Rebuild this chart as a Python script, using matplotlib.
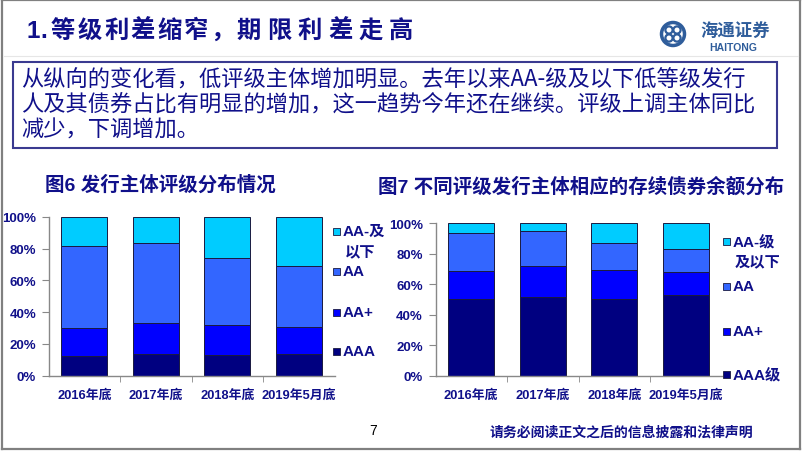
import matplotlib
matplotlib.use('Agg')
import matplotlib.pyplot as plt
from matplotlib.patches import Rectangle, Circle
from matplotlib.lines import Line2D

plt.rcParams['font.family'] = ['Liberation Sans', 'Noto Sans CJK SC', 'DejaVu Sans']

# ---- data (percent of total) ----
categories = ['2016年底', '2017年底', '2018年底', '2019年5月底']
series_colors = ['#000080', '#0000FF', '#3366FF', '#00CCFF']

issuer_aaa = [12.2, 13.8, 13.2, 13.6]
issuer_aap = [17.6, 19.3, 18.7, 17.0]
issuer_aa = [51.8, 50.3, 42.3, 38.2]
issuer_low = [18.4, 16.6, 25.8, 31.2]
issuer_labels = ['AAA', 'AA+', 'AA', 'AA-及\n以下']

bond_aaa = [50.1, 51.4, 50.1, 52.7]
bond_aap = [18.4, 20.6, 19.3, 15.4]
bond_aa = [25.2, 23.0, 17.7, 15.1]
bond_low = [6.3, 5.0, 12.9, 16.8]
bond_labels = ['AAA级', 'AA+', 'AA', 'AA-级\n及以下']

yticks = [0, 20, 40, 60, 80, 100]

title = '1.等级利差缩窄，期限利差走高'
body_lines = ['从纵向的变化看，低评级主体增加明显。去年以来AA-级及以下低等级发行',
              '人及其债券占比有明显的增加，这一趋势今年还在继续。评级上调主体同比',
              '减少，下调增加。']
chart1_title = '图6 发行主体评级分布情况'
chart2_title = '图7 不同评级发行主体相应的存续债券余额分布'
footer = '请务必阅读正文之后的信息披露和法律声明'

NAVY = '#10108a'
W, H = 802, 452


def fx(x):
    return x / W


def fy(y):
    return 1 - y / H


fig = plt.figure(figsize=(W / 100, H / 100), dpi=100)
fig.patch.set_facecolor('white')

# page frame
for xs, ys in [([2, 2], [1, 450]), ([800, 800], [1, 450]), ([2, 800], [1, 1]), ([2, 800], [450, 450])]:
    fig.add_artist(Line2D([fx(v) for v in xs], [fy(v) for v in ys], color='#808080', lw=1.6))
fig.add_artist(Line2D([fx(4), fx(798)], [fy(57), fy(57)], color='#e6e6e6', lw=0.8))

# title, spaced like the slide
x = 26
for i, ch in enumerate(title):
    fig.text(fx(x), fy(31), ch, fontsize=17.5, fontweight='bold', color=NAVY,
             ha='left', va='center', family=['Liberation Sans', 'Noto Sans CJK SC'])
    if ch == '1':
        x += 14
    elif ch == '.':
        x += 11
    elif i < 9:
        x += 26.5
    else:
        x += 30.5

# logo (drawn in inches so circles stay round)
logo_c = '#2f5d9b'
tr = fig.dpi_scale_trans
fig.add_artist(Circle((6.73, (H - 35) / 100), 0.115, transform=tr, fill=False, ec=logo_c, lw=2.5))
for dx, dy in [(-4, -4), (4, -4), (-4, 4), (4, 4)]:
    fig.add_artist(Circle(((673 + dx) / 100, (H - 35 - dy) / 100), 0.036, transform=tr,
                          fill=False, ec=logo_c, lw=1.6))
fig.text(fx(735), fy(31), '海通证券', fontsize=12.5, color=logo_c, ha='center', va='center',
         family='Noto Sans CJK SC', fontweight='bold')
fig.text(fx(733), fy(48), 'HAITONG', fontsize=7.5, fontweight='bold', color=logo_c,
         ha='center', va='center')

# text box
fig.add_artist(Rectangle((fx(13), fy(149)), (777 - 13) / W, (149 - 63) / H,
                         transform=fig.transFigure, fill=False, ec='#3a3a90', lw=1.5))
for i, line in enumerate(body_lines):
    fig.text(fx(21), fy(80 + 25 * i), line, fontsize=16, color=NAVY, ha='left', va='center',
             family=['Noto Sans CJK SC'], fontweight='medium')

# chart titles
fig.text(fx(45), fy(185), chart1_title, fontsize=14, fontweight='bold', color=NAVY,
         ha='left', va='center')
fig.text(fx(378), fy(187), chart2_title, fontsize=14, fontweight='bold', color=NAVY,
         ha='left', va='center')


def stacked(rect, values, legend_labels, leg_x, leg_ys, sub_dx):
    left, right, top, bottom = rect
    ax = fig.add_axes([fx(left), fy(bottom), (right - left) / W, (bottom - top) / H])
    pos = list(range(len(categories)))
    base = [0] * len(categories)
    for vals, col in zip(values, series_colors):
        ax.bar(pos, vals, width=0.65, bottom=base, color=col, edgecolor='#1a1a40', linewidth=0.7)
        base = [b + v for b, v in zip(base, vals)]
    ax.set_xlim(-0.5, len(categories) - 0.5)
    ax.set_ylim(0, 100)
    ax.set_yticks(yticks)
    ax.set_yticklabels(['%d%%' % v for v in yticks], fontsize=9.5, fontweight='bold', color=NAVY)
    ax.set_xticks(pos)
    ax.set_xticklabels(categories, fontsize=9.3, fontweight='bold', color=NAVY)
    ax.set_xticks([p + 0.5 for p in pos[:-1]], minor=True)
    ax.tick_params(axis='x', which='major', length=0, pad=9)
    ax.tick_params(axis='x', which='minor', length=4, color='#888888')
    ax.tick_params(axis='y', length=5, color='#888888', pad=4)
    for s in ['top', 'right']:
        ax.spines[s].set_visible(False)
    for s in ['left', 'bottom']:
        ax.spines[s].set_color('#888888')
        ax.spines[s].set_linewidth(1.0)
    # legend, top entry first
    for lab, col, ly in zip(legend_labels[::-1], series_colors[::-1], leg_ys):
        fig.add_artist(Rectangle((fx(leg_x), fy(ly + 3.5)), 7 / W, 7 / H, transform=fig.transFigure,
                                 fc=col, ec='#1a1a40', lw=0.6))
        parts = lab.split('\n')
        fig.text(fx(leg_x + 10), fy(ly), parts[0], fontsize=11, fontweight='bold', color=NAVY,
                 ha='left', va='center')
        if len(parts) > 1:
            fig.text(fx(leg_x + 10 + sub_dx), fy(ly + 20), parts[1], fontsize=11, fontweight='bold',
                     color=NAVY, ha='left', va='center')
    return ax


stacked((48.5, 334.5, 217.7, 376.7), [issuer_aaa, issuer_aap, issuer_aa, issuer_low],
        issuer_labels, 333, [232, 272, 313, 352], 2)
stacked((435.5, 721.5, 224.3, 376.7), [bond_aaa, bond_aap, bond_aa, bond_low],
        bond_labels, 723, [242, 287, 332, 375], 2)

# footer
fig.text(fx(373), fy(431), '7', fontsize=10, color='black', ha='center', va='center')
fig.text(fx(621), fy(433), footer, fontsize=10, fontweight='bold', color=NAVY,
         ha='center', va='center')

fig.savefig('out.png', dpi=100)
